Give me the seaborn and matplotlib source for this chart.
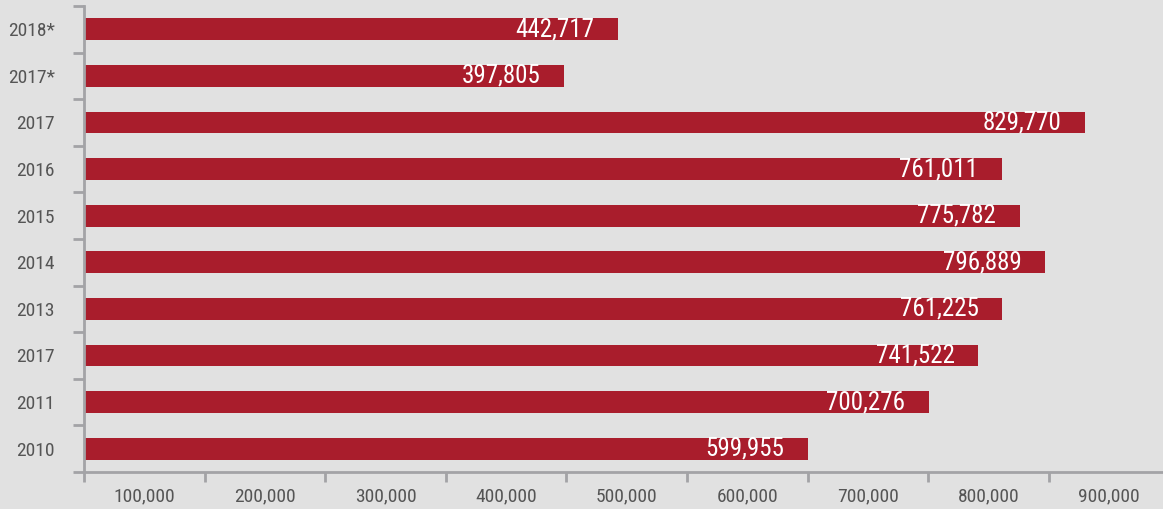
import pandas as pd
import matplotlib.pyplot as plt
import seaborn as sns
from matplotlib import font_manager
from matplotlib.ticker import FixedLocator

# chart values, top to bottom
years = ['2018*', '2017*', '2017', '2016', '2015', '2014', '2013', '2017', '2011', '2010']
visitors = [442717, 397805, 829770, 761011, 775782, 796889, 761225, 741522, 700276, 599955]
xtick_labels = ['100,000', '200,000', '300,000', '400,000', '500,000',
                '600,000', '700,000', '800,000', '900,000']

bg = '#e1e1e1'
bar_color = '#a91d2c'
axis_gray = '#a3a3a6'
text_gray = '#555555'

sns.set_style("white")
installed = {f.name for f in font_manager.fontManager.ttflist}
narrow = [n for n in ['Liberation Sans Narrow', 'Roboto Condensed', 'Open Sans Condensed']
          if n in installed]
if narrow:
    family, tick_size, value_size = narrow[0], 14, 18
else:
    family, tick_size, value_size = 'Liberation Sans', 12, 16
plt.rcParams['font.family'] = [family, 'DejaVu Sans']

df = pd.DataFrame({'row': range(len(years)), 'year': years, 'visitors': visitors})

fig = plt.figure(figsize=(11.63, 5.09), dpi=100, facecolor=bg)
ax = fig.add_axes([84 / 1163, 1 - 472 / 509, 1 - 84 / 1163, (472 - 6) / 509])
ax.set_facecolor(bg)

sns.barplot(data=df, x='visitors', y='row', orient='h', color=bar_color,
            width=0.47, saturation=1, linewidth=0, ax=ax)

ax.set_xlim(0, 894600)
ax.set_ylim(len(years) - 0.5, -0.5)

# major ticks mark boundaries, labels sit in between on minor ticks
ax.yaxis.set_major_locator(FixedLocator([i - 0.5 for i in range(len(years) + 1)]))
ax.yaxis.set_minor_locator(FixedLocator(list(range(len(years)))))
ax.set_yticklabels([], minor=False)
ax.set_yticklabels(years, minor=True)
ax.tick_params(axis='y', which='major', left=True, length=8, width=2,
               color=axis_gray, direction='out')
ax.tick_params(axis='y', which='minor', left=True, length=0, pad=21,
               labelsize=tick_size, labelcolor=text_gray)

ax.xaxis.set_major_locator(FixedLocator([i * 100000 for i in range(9)]))
ax.xaxis.set_minor_locator(FixedLocator([i * 100000 + 50000 for i in range(9)]))
ax.set_xticklabels([], minor=False)
ax.set_xticklabels(xtick_labels, minor=True)
ax.tick_params(axis='x', which='major', bottom=True, length=7, width=2,
               color=axis_gray, direction='out')
ax.tick_params(axis='x', which='minor', bottom=True, length=0, pad=11,
               labelsize=tick_size, labelcolor=text_gray)

for side in ['top', 'right']:
    ax.spines[side].set_visible(False)
for side in ['left', 'bottom']:
    ax.spines[side].set_color(axis_gray)
    ax.spines[side].set_linewidth(2)

ax.set_xlabel('')
ax.set_ylabel('')

for i, v in enumerate(visitors):
    ax.annotate(f'{v:,}', xy=(v, i), xytext=(-17, 0), textcoords='offset points',
                ha='right', va='center', color='white', fontsize=value_size)

fig.savefig('out.png', dpi=100, facecolor=bg)
